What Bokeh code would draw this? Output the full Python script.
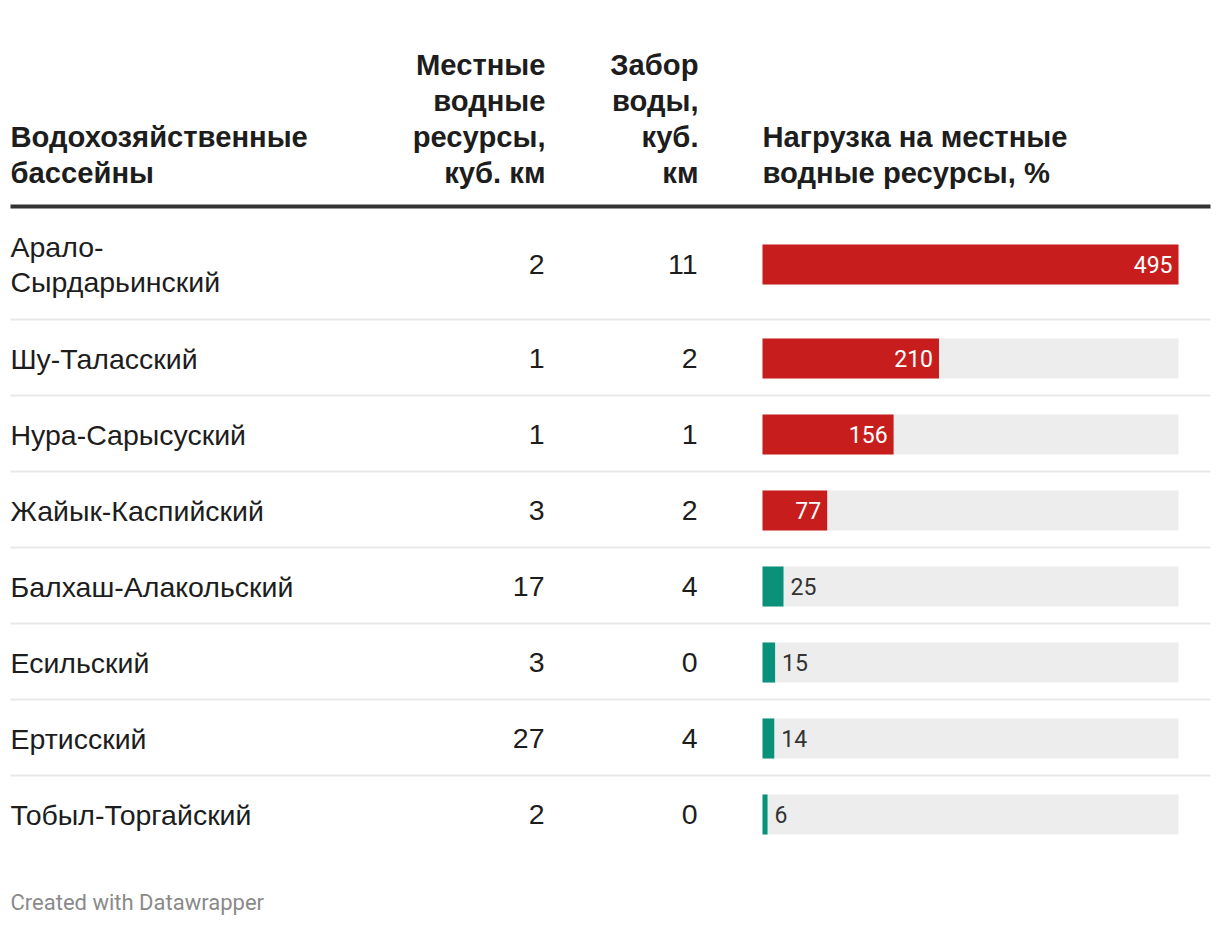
from bokeh.plotting import figure
from bokeh.models import Range1d, ColumnDataSource
from bokeh.core.properties import value
from bokeh.embed import file_html
from bokeh.resources import INLINE

# ---- data ----
basins = ["Арало-\nСырдарьинский", "Шу-Таласский", "Нура-Сарысуский", "Жайык-Каспийский",
          "Балхаш-Алакольский", "Есильский", "Ертисский", "Тобыл-Торгайский"]
local_resources = [2, 1, 1, 3, 17, 3, 27, 2]
withdrawal = [11, 2, 1, 2, 4, 0, 4, 0]
load_pct = [495, 210, 156, 77, 25, 15, 14, 6]

header_basin = ["Водохозяйственные", "бассейны"]
header_local = ["Местные", "водные", "ресурсы,", "куб. км"]
header_withdraw = ["Забор", "воды,", "куб.", "км"]
header_load = ["Нагрузка на местные", "водные ресурсы, %"]
footer = "Created with Datawrapper"

RED = "#c71e1d"
GREEN = "#09917a"
BG = "#ededed"
TXT = "#1d1d1d"

# ---- layout (screen px) ----
W, H = 1212, 916
BAR_X0, BAR_X1 = 762, 1178
COL1_R, COL2_R = 545, 698
LABEL_X = 10
HEADER_LINE_Y = 206
first_center = 264
row_pitch = 76
centers = [first_center] + [first_center + 94 + row_pitch * (i - 1) for i in range(1, len(basins))]
seps = [c + 55 if i == 0 else c + 37 for i, c in enumerate(centers[:-1])]

p = figure(width=W, height=H, output_backend="svg", toolbar_location=None,
           x_range=Range1d(0, W), y_range=Range1d(H, 0),
           min_border=0, outline_line_color=None)
p.axis.visible = False
p.grid.visible = False
p.background_fill_color = "white"

vmax = max(load_pct)
k = (BAR_X1 - BAR_X0) / vmax
p.extra_x_ranges = {"bar": Range1d(-BAR_X0 / k, (W - BAR_X0) / k)}

# header texts
hdr_font = value("Liberation Sans")
line_gap = 36
def header(lines, x, align, bottom_y=172):
    n = len(lines)
    ys = [bottom_y - line_gap * (n - 1 - i) for i in range(n)]
    p.text(x=[x] * n, y=ys, text=lines, text_font=hdr_font, text_font_style="bold",
           text_font_size="29.2px", text_align=align, text_baseline="middle", text_color=TXT)

header(header_basin, LABEL_X, "left")
header(header_local, COL1_R, "right")
header(header_withdraw, COL2_R, "right")
header(header_load, BAR_X0, "left")

# header rule and separators
p.segment(x0=[LABEL_X], x1=[1210], y0=[HEADER_LINE_Y], y1=[HEADER_LINE_Y], line_color="#333333", line_width=4)
p.segment(x0=[LABEL_X] * len(seps), x1=[1210] * len(seps), y0=seps, y1=seps,
          line_color="#e9e9e9", line_width=2)

body_font = value("Liberation Sans")
num_font = value("Roboto")
src = ColumnDataSource(dict(
    y=centers, basin=basins,
    local=[str(v) for v in local_resources], wd=[str(v) for v in withdrawal],
    load=load_pct, zero=[0] * len(basins), vmax=[vmax] * len(basins),
    color=[RED if v >= 50 else GREEN for v in load_pct],
))

p.text(x=LABEL_X, y="y", text="basin", source=src, text_font=body_font, text_font_size="28.5px",
       text_align="left", text_baseline="middle", text_color=TXT, text_line_height=1.08)
p.text(x=COL1_R - 1, y="y", text="local", source=src, text_font=body_font, text_font_size="28.5px",
       text_align="right", text_baseline="middle", text_color=TXT)
p.text(x=COL2_R - 1, y="y", text="wd", source=src, text_font=body_font, text_font_size="28.5px",
       text_align="right", text_baseline="middle", text_color=TXT)

# bars
p.hbar(y="y", left="zero", right="vmax", height=40, source=src, x_range_name="bar",
       fill_color=BG, line_color=None)
p.hbar(y="y", left="zero", right="load", height=40, source=src, x_range_name="bar",
       fill_color="color", line_color=None)

inside = ColumnDataSource(dict(
    y=[c for c, v in zip(centers, load_pct) if v >= 50],
    x=[v for v in load_pct if v >= 50],
    t=[str(v) for v in load_pct if v >= 50]))
outside = ColumnDataSource(dict(
    y=[c for c, v in zip(centers, load_pct) if v < 50],
    x=[v for v in load_pct if v < 50],
    t=[str(v) for v in load_pct if v < 50]))
p.text(x="x", y="y", text="t", source=inside, x_range_name="bar", x_offset=-6,
       text_font=num_font, text_font_size="23px", text_align="right", text_baseline="middle",
       text_color="white")
p.text(x="x", y="y", text="t", source=outside, x_range_name="bar", x_offset=7,
       text_font=num_font, text_font_size="23px", text_align="left", text_baseline="middle",
       text_color="#333333")

p.text(x=[LABEL_X], y=[902], text=[footer], text_font=num_font, text_font_size="22px",
       text_align="left", text_baseline="middle", text_color="#8a8a8a")

open("out.html", "w").write(file_html(p, INLINE))
